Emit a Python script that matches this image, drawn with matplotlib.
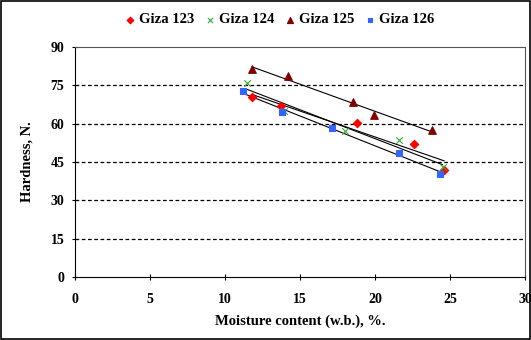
import numpy as np
from matplotlib import pyplot as plt

plt.rcParams['font.family'] = 'Liberation Serif'
plt.rcParams['font.weight'] = 'bold'

# moisture content (x) and hardness (y) for each variety
x123 = [11.8, 13.7, 18.8, 22.6, 24.6]
y123 = [70.4, 66.8, 60.1, 51.9, 42.0]
x124 = [11.5, 13.9, 18.0, 21.6, 24.5]
y124 = [75.9, 65.0, 57.0, 53.5, 43.0]
x125 = [11.8, 14.2, 18.5, 19.9, 23.8]
y125 = [81.4, 78.6, 68.4, 63.3, 57.4]
x126 = [11.2, 13.8, 17.1, 21.6, 24.35]
y126 = [72.7, 64.4, 58.2, 48.7, 40.5]

series = [("Giza 123", x123, y123, "D", "#ff0000", 18),
          ("Giza 124", x124, y124, "x", "#33aa33", 22),
          ("Giza 125", x125, y125, "^", "#800000", 30),
          ("Giza 126", x126, y126, "s", "#3366ff", 20)]

fig = plt.figure(figsize=(5.31, 3.4), dpi=100)
ax = fig.add_axes([0.141, 0.185, 0.848, 0.677])

for y in [15, 30, 45, 60, 75]:
    ax.axhline(y, color="black", ls=(0, (3, 2)), lw=0.9, zorder=1)

for name, xs, ys, m, c, s in series:
    ax.scatter(xs, ys, marker=m, color=c, s=s, lw=0.8, label=name, zorder=3)
    # linear trend line over the data range
    k, b = np.polyfit(xs, ys, 1)
    xl = np.array([min(xs), max(xs)])
    ax.plot(xl, k * xl + b, color="black", lw=0.8, zorder=2)

ax.set_xlim(0, 30)
ax.set_ylim(0, 90)
ax.set_xticks(range(0, 31, 5))
ax.set_yticks(range(0, 91, 15))
ax.tick_params(direction="inout", length=5, labelsize=10, width=0.8)
ax.tick_params(axis="x", pad=9)
ax.tick_params(axis="y", pad=5)
for lab in ax.get_xticklabels() + ax.get_yticklabels():
    lab.set_fontweight("bold")
for sp in ["top", "right"]:
    ax.spines[sp].set_color("#555555")
ax.set_xlabel("Moisture content (w.b.), %.", fontsize=10.5, fontweight="bold", labelpad=6)
ax.set_ylabel("Hardness, N.", fontsize=10.5, fontweight="bold", labelpad=12)

fig.legend(loc="upper center", bbox_to_anchor=(0.523, 1.0), ncol=4, frameon=False,
           handletextpad=0.0, columnspacing=0.5, handlelength=1.2, markerscale=0.8,
           prop={"weight": "bold", "size": 10.5})

fig.patches.append(plt.Rectangle((0.002, 0.003), 0.996, 0.994, transform=fig.transFigure,
                                 fill=False, edgecolor="black", lw=1.2))

fig.savefig("out.png", dpi=100)
